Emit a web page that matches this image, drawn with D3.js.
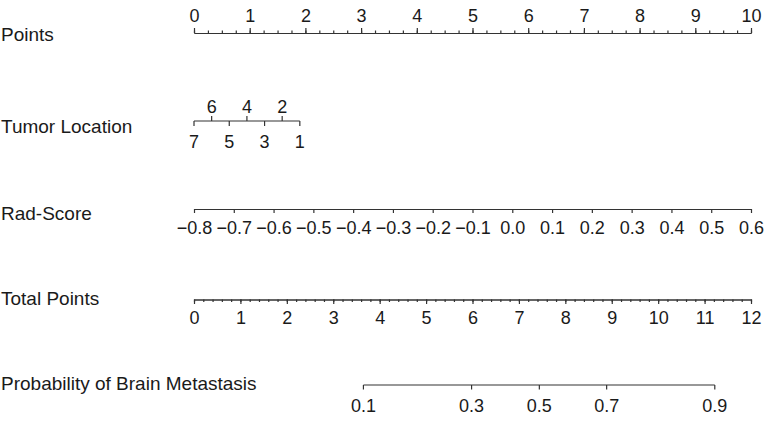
<!DOCTYPE html>
<html><head><meta charset="utf-8">
<script src="https://cdn.jsdelivr.net/npm/d3@7"></script>
<style>
body{margin:0;background:#fff;}
text{font-family:"Liberation Sans",Arial,Helvetica,sans-serif;fill:#1a1a1a;}
</style></head>
<body><svg id="c" width="770" height="421"></svg>
<script>
// ---- data ----
const pointsTicks = [0,1,2,3,4,5,6,7,8,9,10];
const pointsMinor = d3.range(0, 10.001, 0.25);
const tumorLevels = [7,6,5,4,3,2,1];
const tumorPoints = [0,0.317,0.633,0.95,1.267,1.583,1.9];
const radTicks = [-0.8,-0.7,-0.6,-0.5,-0.4,-0.3,-0.2,-0.1,0.0,0.1,0.2,0.3,0.4,0.5,0.6];
const radDomain = [-0.8,0.6];
const totalTicks = [0,1,2,3,4,5,6,7,8,9,10,11,12];
const totalMinor = d3.range(0, 12.001, 0.2);
const probTicks = [0.1,0.3,0.5,0.7,0.9];
const probTotalPoints = [3.65,5.98,7.44,8.89,11.22];
const rowNames = ["Points","Tumor Location","Rad-Score","Total Points","Probability of Brain Metastasis"];

// ---- layout ----
const X0 = 194, X1 = 751, FS = 18, NFS = 19;
const svg = d3.select("#c");
const xPts = d3.scaleLinear().domain([0,10]).range([X0,X1]);
const xTot = d3.scaleLinear().domain([0,12]).range([X0,X1]);
const xRad = d3.scaleLinear().domain(radDomain).range([X0,X1]);
const lineY = [33,121,209,299.5,385];
const nameY = [40.5,133,220,305,390];

function style(g){
  g.select(".domain").attr("stroke","#333").attr("stroke-width",1.2);
  g.selectAll(".tick line").attr("stroke","#333").attr("stroke-width",1.2);
  g.selectAll(".tick text").attr("font-size",FS).attr("fill","#1a1a1a")
    .attr("font-family","'Liberation Sans',Arial,sans-serif");
}
function baseline(g, y){ g.selectAll(".tick text").attr("y", y).attr("dy", null); }

// names
svg.selectAll("text.name").data(rowNames).join("text").attr("class","name")
  .attr("x",1).attr("y",(d,i)=>nameY[i]).attr("font-size",NFS).text(d=>d);

// Points
let g = svg.append("g").attr("transform",`translate(0,${lineY[0]})`);
g.call(d3.axisTop(xPts).tickValues(pointsMinor).tickSize(2.5).tickFormat("").tickSizeOuter(0));
style(g);
g = svg.append("g").attr("transform",`translate(0,${lineY[0]})`);
g.call(d3.axisTop(xPts).tickValues(pointsTicks).tickSize(5).tickFormat(d3.format("d")).tickSizeOuter(0));
style(g); baseline(g,-11);

// Tumor location
const tumorX = tumorPoints.map(p=>xPts(p));
const xTum = d3.scaleOrdinal().domain(tumorLevels).range(tumorX);
g = svg.append("g").attr("transform",`translate(0,${lineY[1]})`);
g.append("line").attr("x1",d3.min(tumorX)).attr("x2",d3.max(tumorX)).attr("stroke","#333").attr("stroke-width",1.2);
const tumTicks = g.selectAll("g.t").data(tumorLevels).join("g").attr("class","t")
  .attr("transform",d=>`translate(${xTum(d)},0)`);
tumTicks.append("line").attr("y2",d=>d%2===0?-5:5).attr("stroke","#333").attr("stroke-width",1.2);
tumTicks.append("text").attr("text-anchor","middle").attr("font-size",FS)
  .attr("y",d=>d%2===0?-8:27).text(d=>d);

// Rad-Score
g = svg.append("g").attr("transform",`translate(0,${lineY[2]})`);
g.call(d3.axisBottom(xRad).tickValues(radTicks).tickSize(4).tickFormat(d3.format(".1f")).tickSizeOuter(0));
style(g); baseline(g,25);

// Total Points
g = svg.append("g").attr("transform",`translate(0,${lineY[3]})`);
g.call(d3.axisBottom(xTot).tickValues(totalMinor).tickSize(2.5).tickFormat("").tickSizeOuter(0));
style(g);
g = svg.append("g").attr("transform",`translate(0,${lineY[3]})`);
g.call(d3.axisBottom(xTot).tickValues(totalTicks).tickSize(4.5).tickFormat(d3.format("d")).tickSizeOuter(0));
style(g); baseline(g,24.5);

// Probability
const xProb = d3.scaleOrdinal().domain(probTicks).range(probTotalPoints.map(t=>xTot(t)));
g = svg.append("g").attr("transform",`translate(0,${lineY[4]})`);
g.append("line").attr("x1",xProb(0.1)).attr("x2",xProb(0.9)).attr("stroke","#333").attr("stroke-width",1.2);
const pt = g.selectAll("g.t").data(probTicks).join("g").attr("class","t")
  .attr("transform",d=>`translate(${xProb(d)},0)`);
pt.append("line").attr("y2",4.5).attr("stroke","#333").attr("stroke-width",1.2);
pt.append("text").attr("text-anchor","middle").attr("font-size",FS).attr("y",27).text(d=>d3.format(".1f")(d));
</script></body></html>
